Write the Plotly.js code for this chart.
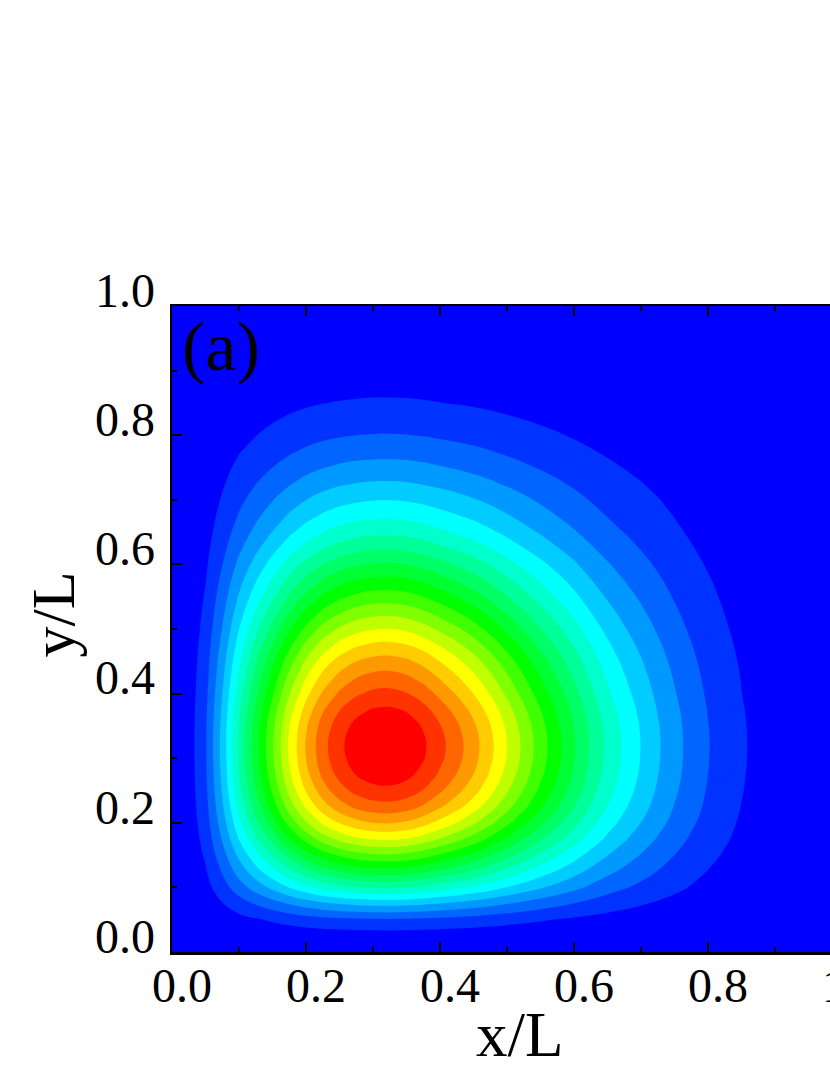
<!DOCTYPE html>
<html>
<head>
<meta charset="utf-8">
<script src="https://cdn.plot.ly/plotly-3.0.1.min.js"></script>
<style>
  html, body { margin: 0; padding: 0; overflow: hidden; background: #fff; }
  #plot { width: 850px; height: 1075px; }
</style>
</head>
<body>
<div id="plot"></div>
<script>
// grid positions (x/L and y/L): every 0.025 up to 0.9, then coarser
const xPos = [0, 0.025, 0.05, 0.075, 0.1, 0.125, 0.15, 0.175, 0.2, 0.225, 0.25, 0.275, 0.3,
              0.325, 0.35, 0.375, 0.4, 0.425, 0.45, 0.475, 0.5, 0.525, 0.55, 0.575, 0.6,
              0.625, 0.65, 0.675, 0.7, 0.725, 0.75, 0.775, 0.8, 0.825, 0.85, 0.875, 0.9, 0.95, 1];
const yPos = xPos.slice();

// field, in contour-level units (one row per y value)
const level = [
  [0,0,0,0,0,0,0,0,0,0,0,0,0,0,0,0,0,0,0,0,0,0,0,0,0,0,0,0,0,0,0,0,0,0,0,0,0,0,0],
  [0,0.02,0.05,0.12,0.2,0.26,0.33,0.39,0.44,0.49,0.52,0.54,0.55,0.55,0.54,0.53,0.5,0.48,0.45,0.42,0.39,0.35,0.32,0.28,0.25,0.22,0.19,0.16,0.14,0.11,0.09,0.07,0.06,0.04,0.03,0.02,0.01,0.01,0],
  [0,0.05,0.18,0.41,0.67,0.9,1.12,1.33,1.51,1.66,1.76,1.83,1.87,1.88,1.86,1.8,1.72,1.63,1.54,1.43,1.31,1.2,1.08,0.97,0.85,0.74,0.64,0.55,0.47,0.39,0.32,0.25,0.19,0.15,0.1,0.07,0.05,0.02,0],
  [0,0.12,0.41,0.95,1.55,2.09,2.59,3.08,3.49,3.84,4.08,4.24,4.33,4.35,4.29,4.16,3.98,3.78,3.56,3.31,3.04,2.77,2.5,2.24,1.98,1.71,1.47,1.27,1.08,0.9,0.73,0.58,0.45,0.34,0.24,0.17,0.11,0.04,0],
  [0,0.2,0.67,1.55,2.54,3.42,4.24,5.04,5.72,6.29,6.68,6.96,7.1,7.13,7.04,6.82,6.52,6.2,5.84,5.43,4.99,4.54,4.1,3.67,3.24,2.81,2.41,2.08,1.77,1.47,1.2,0.95,0.73,0.55,0.4,0.28,0.18,0.07,0],
  [0,0.26,0.9,2.09,3.42,4.6,5.71,6.79,7.71,8.46,9,9.37,9.56,9.6,9.48,9.19,8.78,8.34,7.86,7.31,6.71,6.11,5.51,4.94,4.36,3.78,3.25,2.8,2.38,1.98,1.61,1.28,0.98,0.74,0.53,0.37,0.24,0.1,0],
  [0,0.33,1.12,2.59,4.24,5.71,7.07,8.41,9.55,10.49,11.16,11.61,11.85,11.9,11.75,11.39,10.88,10.34,9.75,9.07,8.32,7.58,6.84,6.12,5.41,4.68,4.03,3.47,2.95,2.46,2,1.58,1.22,0.92,0.66,0.46,0.3,0.12,0],
  [0,0.39,1.33,3.08,5.04,6.79,8.41,10,11.36,12.48,13.27,13.8,14.09,14.15,13.97,13.54,12.93,12.3,11.59,10.78,9.9,9.01,8.13,7.28,6.43,5.57,4.79,4.12,3.51,2.92,2.38,1.88,1.45,1.1,0.79,0.55,0.35,0.14,0],
  [0,0.44,1.51,3.49,5.72,7.71,9.55,11.36,12.9,14.17,15.07,15.68,16.01,16.07,15.86,15.38,14.69,13.97,13.16,12.24,11.24,10.23,9.23,8.27,7.3,6.33,5.44,4.68,3.99,3.32,2.7,2.14,1.65,1.24,0.89,0.63,0.4,0.16,0],
  [0,0.49,1.66,3.84,6.29,8.46,10.49,12.48,14.17,15.56,16.55,17.22,17.58,17.65,17.42,16.89,16.13,15.34,14.46,13.44,12.34,11.24,10.14,9.08,8.02,6.95,5.98,5.14,4.38,3.64,2.96,2.35,1.81,1.37,0.98,0.69,0.44,0.18,0],
  [0,0.52,1.76,4.08,6.69,9,11.16,13.27,15.07,16.55,17.6,18.31,18.7,18.77,18.53,17.96,17.16,16.31,15.38,14.3,13.13,11.95,10.78,9.66,8.53,7.39,6.36,5.47,4.66,3.87,3.15,2.49,1.92,1.45,1.04,0.73,0.47,0.19,0],
  [0,0.54,1.83,4.24,6.96,9.37,11.61,13.8,15.68,17.22,18.31,19.05,19.45,19.53,19.28,18.69,17.85,16.97,16,14.88,13.66,12.44,11.22,10.05,8.88,7.69,6.61,5.69,4.85,4.03,3.28,2.6,2,1.51,1.08,0.76,0.49,0.2,0],
  [0,0.55,1.87,4.33,7.1,9.56,11.85,14.09,16.01,17.58,18.7,19.45,19.86,19.94,19.68,19.08,18.23,17.33,16.33,15.19,13.94,12.7,11.45,10.26,9.06,7.85,6.75,5.81,4.95,4.11,3.35,2.65,2.04,1.54,1.11,0.78,0.5,0.2,0],
  [0,0.55,1.88,4.35,7.13,9.6,11.9,14.15,16.07,17.65,18.77,19.53,19.94,20.02,19.76,19.16,18.3,17.4,16.4,15.25,14,12.75,11.5,10.3,9.1,7.88,6.78,5.83,4.97,4.13,3.36,2.66,2.05,1.55,1.11,0.78,0.5,0.2,0],
  [0,0.54,1.86,4.29,7.04,9.48,11.75,13.97,15.86,17.42,18.53,19.28,19.68,19.76,19.5,18.91,18.06,17.17,16.19,15.05,13.82,12.58,11.35,10.17,8.98,7.78,6.69,5.75,4.91,4.08,3.32,2.63,2.02,1.53,1.1,0.77,0.49,0.2,0],
  [0,0.53,1.8,4.16,6.82,9.19,11.39,13.54,15.38,16.89,17.96,18.69,19.08,19.16,18.91,18.34,17.51,16.65,15.7,14.59,13.4,12.2,11.01,9.86,8.71,7.54,6.49,5.58,4.76,3.95,3.22,2.55,1.96,1.48,1.06,0.75,0.48,0.19,0],
  [0,0.5,1.72,3.98,6.52,8.78,10.88,12.94,14.69,16.13,17.16,17.85,18.23,18.3,18.06,17.51,16.73,15.91,14.99,13.94,12.8,11.66,10.51,9.42,8.32,7.2,6.2,5.33,4.54,3.78,3.07,2.43,1.87,1.42,1.01,0.71,0.46,0.18,0],
  [0,0.48,1.63,3.78,6.2,8.34,10.34,12.3,13.97,15.34,16.31,16.97,17.33,17.4,17.17,16.65,15.91,15.12,14.25,13.25,12.17,11.08,10,8.95,7.91,6.85,5.89,5.07,4.32,3.59,2.92,2.31,1.78,1.35,0.97,0.68,0.43,0.17,0],
  [0,0.45,1.54,3.56,5.84,7.86,9.75,11.59,13.16,14.46,15.38,16,16.33,16.4,16.19,15.7,14.99,14.25,13.43,12.49,11.47,10.45,9.42,8.44,7.46,6.46,5.55,4.78,4.07,3.38,2.75,2.18,1.68,1.27,0.91,0.64,0.41,0.16,0],
  [0,0.42,1.43,3.31,5.43,7.31,9.06,10.78,12.24,13.44,14.3,14.88,15.19,15.25,15.05,14.59,13.94,13.25,12.49,11.62,10.66,9.71,8.76,7.85,6.93,6,5.16,4.44,3.79,3.15,2.56,2.03,1.56,1.18,0.85,0.59,0.38,0.15,0],
  [0,0.39,1.31,3.04,4.99,6.71,8.32,9.9,11.24,12.34,13.13,13.66,13.94,14,13.82,13.4,12.8,12.17,11.47,10.66,9.79,8.92,8.04,7.2,6.36,5.51,4.74,4.08,3.48,2.89,2.35,1.86,1.43,1.08,0.78,0.55,0.35,0.14,0],
  [0,0.35,1.2,2.77,4.54,6.11,7.58,9.01,10.24,11.24,11.96,12.44,12.7,12.75,12.59,12.2,11.66,11.08,10.45,9.71,8.92,8.12,7.32,6.56,5.8,5.02,4.32,3.71,3.17,2.63,2.14,1.69,1.31,0.99,0.71,0.5,0.32,0.13,0],
  [0,0.32,1.08,2.5,4.1,5.51,6.84,8.13,9.23,10.14,10.78,11.22,11.45,11.5,11.35,11.01,10.51,10,9.42,8.76,8.04,7.32,6.61,5.92,5.23,4.53,3.89,3.35,2.86,2.37,1.93,1.53,1.18,0.89,0.64,0.45,0.29,0.12,0],
  [0,0.28,0.97,2.24,3.67,4.94,6.12,7.28,8.27,9.08,9.66,10.05,10.26,10.3,10.17,9.86,9.42,8.95,8.44,7.85,7.2,6.56,5.92,5.3,4.68,4.05,3.49,3,2.56,2.13,1.73,1.37,1.06,0.8,0.57,0.4,0.26,0.1,0],
  [0,0.25,0.85,1.98,3.24,4.36,5.41,6.43,7.3,8.02,8.53,8.88,9.06,9.1,8.98,8.71,8.32,7.91,7.45,6.93,6.36,5.8,5.23,4.68,4.14,3.58,3.08,2.65,2.26,1.88,1.53,1.21,0.93,0.7,0.5,0.35,0.23,0.09,0],
  [0,0.22,0.74,1.71,2.81,3.78,4.68,5.57,6.33,6.95,7.39,7.69,7.85,7.88,7.78,7.54,7.2,6.85,6.46,6,5.51,5.02,4.53,4.05,3.58,3.1,2.67,2.3,1.96,1.63,1.32,1.05,0.81,0.61,0.44,0.31,0.2,0.08,0],
  [0,0.19,0.64,1.47,2.42,3.25,4.03,4.79,5.44,5.98,6.36,6.62,6.75,6.78,6.69,6.49,6.2,5.89,5.56,5.17,4.74,4.32,3.9,3.49,3.08,2.67,2.3,1.98,1.68,1.4,1.14,0.9,0.69,0.53,0.38,0.26,0.17,0.07,0],
  [0,0.16,0.55,1.27,2.08,2.8,3.47,4.12,4.68,5.14,5.47,5.69,5.81,5.83,5.75,5.58,5.33,5.07,4.78,4.44,4.08,3.71,3.35,3,2.65,2.3,1.97,1.7,1.45,1.2,0.98,0.78,0.6,0.45,0.32,0.23,0.15,0.06,0],
  [0,0.14,0.47,1.08,1.77,2.38,2.96,3.51,3.99,4.38,4.66,4.85,4.95,4.97,4.91,4.76,4.54,4.32,4.07,3.79,3.48,3.17,2.86,2.56,2.26,1.96,1.68,1.45,1.23,1.03,0.83,0.66,0.51,0.39,0.28,0.19,0.12,0.05,0],
  [0,0.11,0.39,0.9,1.47,1.98,2.46,2.92,3.32,3.64,3.87,4.03,4.11,4.13,4.08,3.95,3.78,3.59,3.38,3.15,2.89,2.63,2.37,2.13,1.88,1.63,1.4,1.2,1.03,0.85,0.69,0.55,0.42,0.32,0.23,0.16,0.1,0.04,0],
  [0,0.09,0.32,0.73,1.2,1.61,2,2.37,2.7,2.96,3.15,3.28,3.35,3.36,3.32,3.22,3.07,2.92,2.75,2.56,2.35,2.14,1.93,1.73,1.53,1.32,1.14,0.98,0.83,0.69,0.56,0.45,0.34,0.26,0.19,0.13,0.08,0.03,0],
  [0,0.07,0.25,0.58,0.95,1.28,1.58,1.88,2.14,2.35,2.5,2.6,2.65,2.66,2.63,2.55,2.43,2.31,2.18,2.03,1.86,1.69,1.53,1.37,1.21,1.05,0.9,0.78,0.66,0.55,0.45,0.35,0.27,0.21,0.15,0.1,0.07,0.03,0],
  [0,0.06,0.19,0.45,0.73,0.98,1.22,1.45,1.65,1.81,1.92,2,2.04,2.05,2.02,1.96,1.87,1.78,1.68,1.56,1.43,1.31,1.18,1.06,0.93,0.81,0.69,0.6,0.51,0.42,0.34,0.27,0.21,0.16,0.11,0.08,0.05,0.02,0],
  [0,0.04,0.15,0.34,0.55,0.74,0.92,1.1,1.24,1.37,1.45,1.51,1.54,1.55,1.53,1.48,1.42,1.35,1.27,1.18,1.08,0.99,0.89,0.8,0.7,0.61,0.53,0.45,0.39,0.32,0.26,0.21,0.16,0.12,0.09,0.06,0.04,0.02,0],
  [0,0.03,0.1,0.24,0.4,0.53,0.66,0.78,0.89,0.98,1.04,1.08,1.11,1.11,1.1,1.06,1.01,0.96,0.91,0.85,0.78,0.71,0.64,0.57,0.5,0.44,0.38,0.32,0.28,0.23,0.19,0.15,0.11,0.09,0.06,0.04,0.03,0.01,0],
  [0,0.02,0.07,0.17,0.28,0.37,0.46,0.55,0.63,0.69,0.73,0.76,0.78,0.78,0.77,0.75,0.71,0.68,0.64,0.6,0.55,0.5,0.45,0.4,0.36,0.31,0.26,0.23,0.19,0.16,0.13,0.1,0.08,0.06,0.04,0.03,0.02,0.01,0],
  [0,0.01,0.05,0.11,0.18,0.24,0.3,0.35,0.4,0.44,0.47,0.49,0.5,0.5,0.49,0.48,0.46,0.44,0.41,0.38,0.35,0.32,0.29,0.26,0.23,0.2,0.17,0.15,0.12,0.1,0.08,0.07,0.05,0.04,0.03,0.02,0.01,0.01,0],
  [0,0.01,0.02,0.04,0.07,0.1,0.12,0.14,0.16,0.18,0.19,0.2,0.2,0.2,0.2,0.19,0.18,0.17,0.16,0.15,0.14,0.13,0.12,0.1,0.09,0.08,0.07,0.06,0.05,0.04,0.03,0.03,0.02,0.02,0.01,0.01,0.01,0,0],
  [0,0,0,0,0,0,0,0,0,0,0,0,0,0,0,0,0,0,0,0,0,0,0,0,0,0,0,0,0,0,0,0,0,0,0,0,0,0,0]
];

// one colour per band, lowest first
const bandColors = [
  '#0000ff', '#0033ff', '#0066ff', '#0099ff', '#00ccff',
  '#00ffff', '#00ffcc', '#00ff99', '#00ff66', '#00ff33',
  '#00ff00', '#3fff00', '#7fff00', '#bfff00', '#ffff00',
  '#ffcc00', '#ff9900', '#ff6600', '#ff3300', '#ff0000'
];

const tickVals = [0, 0.2, 0.4, 0.6, 0.8, 1.0];

const colorscale = bandColors.map((c, i) => [i / (bandColors.length - 1), c]);

const serif = 'Liberation Serif, Times New Roman, serif';

const axisStyle = {
  range: [0, 1],
  tickvals: tickVals,
  tickformat: '.1f',
  ticks: 'inside',
  ticklen: 10,
  tickwidth: 2,
  tickcolor: '#000',
  showline: true,
  linewidth: 2.5,
  linecolor: '#000',
  mirror: 'ticks',
  showgrid: false,
  zeroline: false,
  ticklabeloverflow: 'allow',
  tickfont: { family: serif, size: 48, color: '#000' },
  minor: { dtick: 0.1, ticks: 'inside', ticklen: 5, tickwidth: 2, tickcolor: '#000', showgrid: false }
};

const trace = {
  type: 'contour',
  x: xPos,
  y: yPos,
  z: level,
  autocontour: false,
  contours: { start: 1, end: 19, size: 1, coloring: 'fill', showlines: false },
  line: { width: 0, smoothing: 1 },
  colorscale: colorscale,
  showscale: false,
  hoverinfo: 'skip'
};

const layout = {
  width: 850,
  height: 1075,
  margin: { l: 172, r: 8, t: 306, b: 123 },
  paper_bgcolor: '#ffffff',
  plot_bgcolor: '#0000ff',
  font: { family: serif, color: '#000' },
  showlegend: false,
  xaxis: Object.assign({}, axisStyle, {
    ticklabelshift: 10,
    ticklabelstandoff: -10
  }),
  yaxis: Object.assign({}, axisStyle, {
    ticklabelshift: -16,
    ticklabelstandoff: 5
  }),
  annotations: [
    {
      text: '(a)',
      xref: 'paper', yref: 'paper',
      x: 0.012, y: 1.0,
      xanchor: 'left', yanchor: 'top',
      showarrow: false,
      font: { family: serif, size: 70, color: '#000' }
    },
    {
      // x axis title
      text: 'x/L',
      xref: 'paper', yref: 'paper',
      x: 0.519, y: -0.128,
      xanchor: 'center', yanchor: 'middle',
      showarrow: false,
      font: { family: serif, size: 63, color: '#000' }
    },
    {
      // y axis title
      text: 'y/L',
      xref: 'paper', yref: 'paper',
      x: -0.178, y: 0.522,
      xanchor: 'center', yanchor: 'middle',
      textangle: -90,
      showarrow: false,
      font: { family: serif, size: 62, color: '#000' }
    }
  ]
};

Plotly.newPlot('plot', [trace], layout, { displayModeBar: false, staticPlot: true });
</script>
</body>
</html>
